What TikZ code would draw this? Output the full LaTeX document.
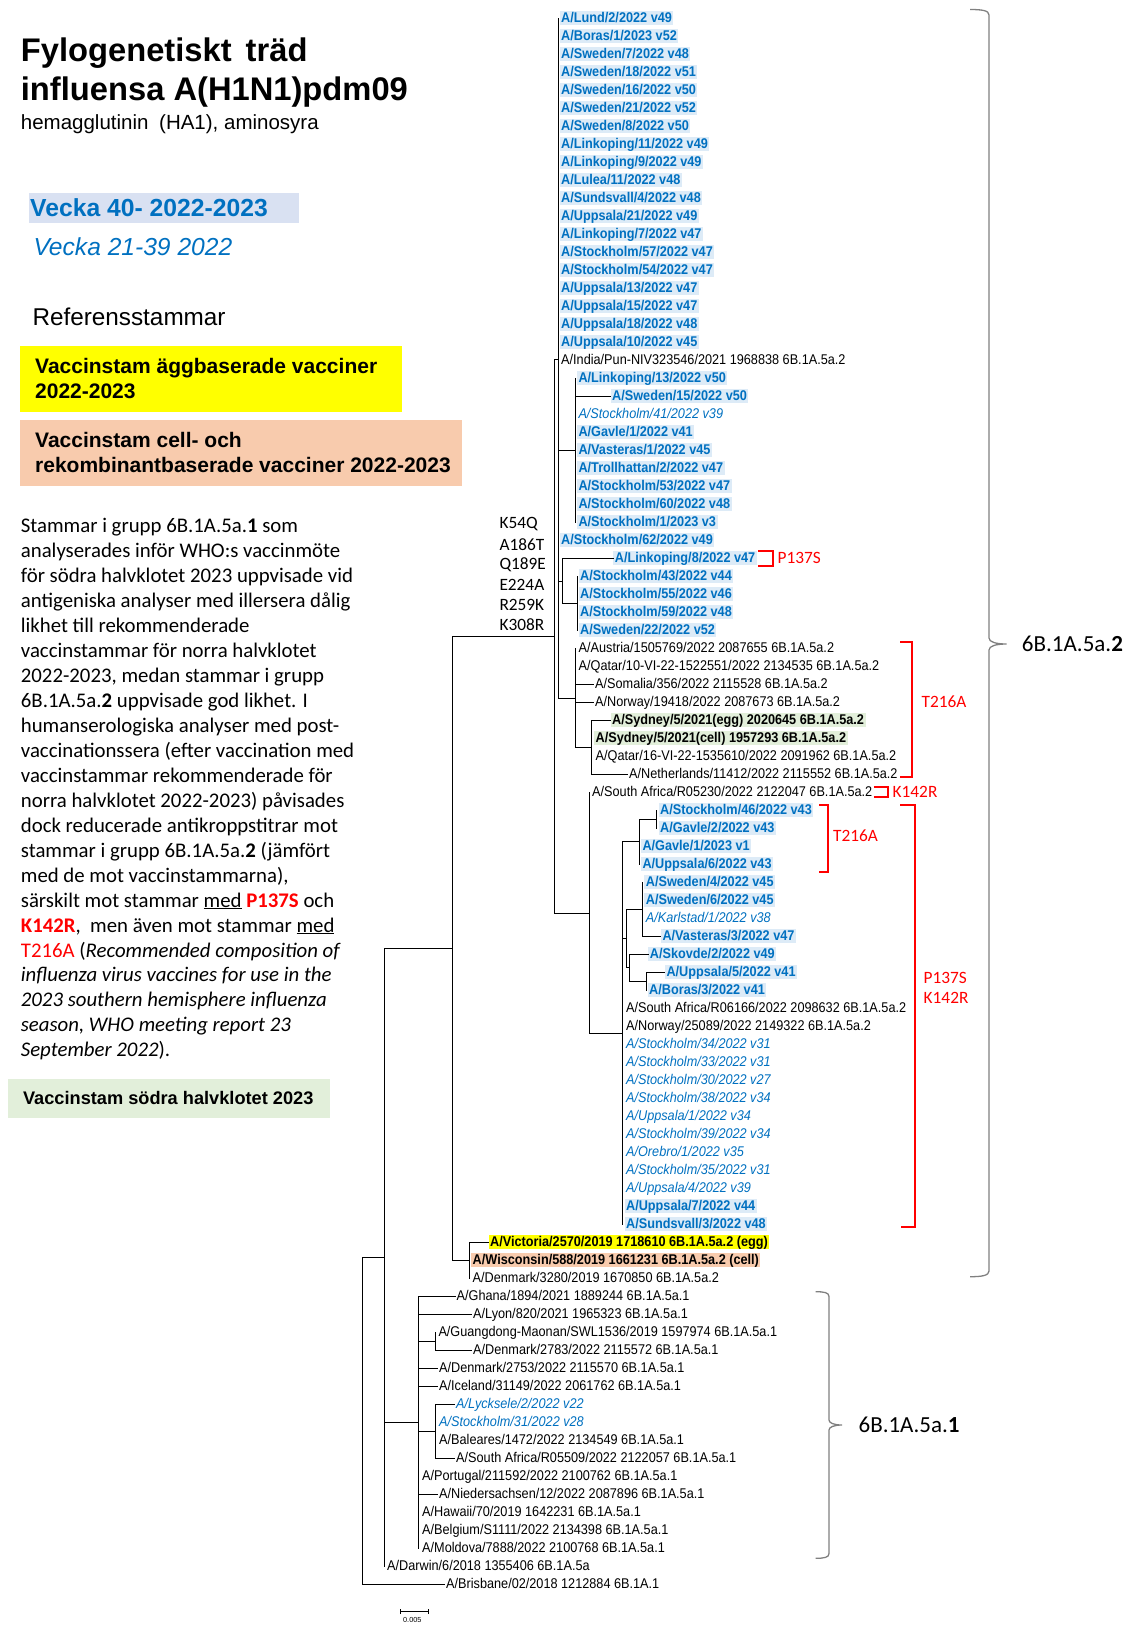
\documentclass[tikz,border=0pt]{standalone}
\usepackage{fontspec}
\setmainfont{Liberation Sans}
\newfontfamily\calfnt{Carlito}
\newfontfamily\leaffam[FakeStretch=0.9]{Liberation Sans}
\definecolor{ablue}{HTML}{0070C0}
\definecolor{hlblue}{HTML}{DDEBF7}
\definecolor{hlgreen}{HTML}{E2EFDA}
\definecolor{hlorange}{HTML}{F8CBAD}
\definecolor{vbg}{HTML}{D9E1F2}
\definecolor{braceg}{HTML}{808080}
\definecolor{myred}{HTML}{FF0000}
\definecolor{myyellow}{HTML}{FFFF00}
\newcommand\leaffnt{\leaffam\fontsize{14.1}{15}\selectfont}
\newcommand\parfnt{\calfnt\fontsize{20.8}{25}\selectfont}
\newcommand\mutfnt{\calfnt\fontsize{17.3}{20}\selectfont}
\begin{document}
\begin{tikzpicture}[x=1pt,y=-1pt,
  leaf/.style={anchor=west, inner xsep=1.5pt, inner ysep=0.5pt, text height=11pt, text depth=2pt, font=\leaffnt},
  lb/.style={leaf, fill=hlblue, text=ablue, font=\leaffnt\bfseries},
  li/.style={leaf, text=ablue, font=\leaffnt\itshape},
  lk/.style={leaf, text=black},
  lg/.style={leaf, fill=hlgreen, font=\leaffnt\bfseries},
  ly/.style={leaf, fill=myyellow, font=\leaffnt\bfseries},
  lo/.style={leaf, fill=hlorange, font=\leaffnt\bfseries},
  br/.style={line width=1pt, line cap=rect, black},
  rbr/.style={line width=2pt, myred},
  rlab/.style={anchor=west, inner sep=0, text=myred, font=\mutfnt},
  ptxt/.style={anchor=base west, inner sep=0, font=\parfnt},
  mut/.style={anchor=west, inner sep=0, font=\mutfnt},
  boxn/.style={anchor=north west, inner sep=0},
  brc/.style={line width=1.3pt, braceg},
  cladelab/.style={anchor=west, inner sep=0, font=\calfnt\fontsize{23}{26}\selectfont}
]
\useasboundingbox (0,0) rectangle (1140,1630);

% ---------- left text ----------
\node[anchor=base west, inner sep=0, font=\fontsize{32.7}{38}\selectfont\bfseries] (t1) at (20.7,61.7) {Fylogenetiskt\hspace{5pt} träd};
\node[anchor=base west, inner sep=0, font=\fontsize{32.7}{38}\selectfont\bfseries] (t2) at (20.7,100) {influensa A(H1N1)pdm09};
\node[anchor=base west, inner sep=0, font=\fontsize{20.5}{24}\selectfont] (t3) at (20.7,129.3) {hemagglutinin\hspace{5pt} (HA1), aminosyra};

\node[boxn, fill=vbg, minimum width=270, minimum height=30.4] (vbox) at (29,192.3) {};
\node[anchor=base west, inner sep=0, text=ablue, font=\fontsize{24.7}{28}\selectfont\bfseries] (v1) at (30,216.7) {Vecka 40- 2022-2023};
\node[anchor=base west, inner sep=0, text=ablue, font=\fontsize{24.6}{28}\selectfont\itshape] (v2) at (33.3,255) {Vecka 21-39 2022};
\node[anchor=base west, inner sep=0, font=\fontsize{24.3}{28}\selectfont] (ref) at (32.3,325) {Referensstammar};

\node[boxn, fill=myyellow, minimum width=381.7, minimum height=65.7] (ybox) at (20,346) {};
\node[anchor=base west, inner sep=0, font=\fontsize{21}{25}\selectfont\bfseries] (y1) at (35,373.3) {Vaccinstam äggbaserade vacciner};
\node[anchor=base west, inner sep=0, font=\fontsize{21}{25}\selectfont\bfseries] (y2) at (35,398.3) {2022-2023};

\node[boxn, fill=hlorange, minimum width=441.7, minimum height=65.7] (obox) at (20,420) {};
\node[anchor=base west, inner sep=0, font=\fontsize{21}{25}\selectfont\bfseries] (o1) at (35,447.7) {Vaccinstam cell- och};
\node[anchor=base west, inner sep=0, font=\fontsize{21}{25}\selectfont\bfseries] (o2) at (35,472.7) {rekombinantbaserade vacciner 2022-2023};

\node[ptxt] (p1) at (20.7,532.5) {Stammar i grupp 6B.1A.5a.\textbf{1} som};
\node[ptxt] (p2) at (20.7,557.47) {analyserades inför WHO:s vaccinmöte};
\node[ptxt] (p3) at (20.7,582.44) {för södra halvklotet 2023 uppvisade vid};
\node[ptxt] (p4) at (20.7,607.41) {antigeniska analyser med illersera dålig};
\node[ptxt] (p5) at (20.7,632.38) {likhet till rekommenderade};
\node[ptxt] (p6) at (20.7,657.35) {vaccinstammar för norra halvklotet};
\node[ptxt] (p7) at (20.7,682.32) {2022-2023, medan stammar i grupp};
\node[ptxt] (p8) at (20.7,707.29) {6B.1A.5a.\textbf{2} uppvisade god likhet. I};
\node[ptxt] (p9) at (20.7,732.26) {humanserologiska analyser med post-};
\node[ptxt] (p10) at (20.7,757.23) {vaccinationssera (efter vaccination med};
\node[ptxt] (p11) at (20.7,782.2) {vaccinstammar rekommenderade för};
\node[ptxt] (p12) at (20.7,807.17) {norra halvklotet 2022-2023) påvisades};
\node[ptxt] (p13) at (20.7,832.14) {dock reducerade antikroppstitrar mot};
\node[ptxt] (p14) at (20.7,857.11) {stammar i grupp 6B.1A.5a.\textbf{2} (jämfört};
\node[ptxt] (p15) at (20.7,882.08) {med de mot vaccinstammarna),};
\node[ptxt] (p16) at (20.7,907.05) {särskilt mot stammar \underline{med} \textcolor{myred}{\textbf{P137S}} och};
\node[ptxt] (p17) at (20.7,932.02) {\textcolor{myred}{\textbf{K142R}},\ \ men även mot stammar \underline{med}};
\node[ptxt] (p18) at (20.7,956.99) {\textcolor{myred}{T216A} (\textit{Recommended composition of}};
\node[ptxt] (p19) at (20.7,981.96) {\textit{influenza virus vaccines for use in the}};
\node[ptxt] (p20) at (20.7,1006.93) {\textit{2023 southern hemisphere influenza}};
\node[ptxt] (p21) at (20.7,1031.9) {\textit{season, WHO meeting report 23}};
\node[ptxt] (p22) at (20.7,1056.87) {\textit{September 2022}).};

\node[boxn, fill=hlgreen, minimum width=322.1, minimum height=39.5] (gbox) at (7.3,1078.7) {};
\node[anchor=base west, inner sep=0, font=\fontsize{18.2}{22}\selectfont\bfseries] (gtxt) at (22.9,1104.9) {Vaccinstam södra halvklotet 2023};

% mutations
\node[mut] (m1) at (499.3,524.5) {K54Q};
\node[mut] (m2) at (499.3,544.6) {A186T};
\node[mut] (m3) at (499.3,564.7) {Q189E};
\node[mut] (m4) at (499.3,584.8) {E224A};
\node[mut] (m5) at (499.3,604.9) {R259K};
\node[mut] (m6) at (499.3,625) {K308R};

% ---------- leaves ----------
\node[lb] (l1) at (559.5,18) {A/Lund/2/2022 v49};
\node[lb] (l2) at (559.5,36) {A/Boras/1/2023 v52};
\node[lb] (l3) at (559.5,54) {A/Sweden/7/2022 v48};
\node[lb] (l4) at (559.5,72) {A/Sweden/18/2022 v51};
\node[lb] (l5) at (559.5,90) {A/Sweden/16/2022 v50};
\node[lb] (l6) at (559.5,108) {A/Sweden/21/2022 v52};
\node[lb] (l7) at (559.5,126) {A/Sweden/8/2022 v50};
\node[lb] (l8) at (559.5,144) {A/Linkoping/11/2022 v49};
\node[lb] (l9) at (559.5,162) {A/Linkoping/9/2022 v49};
\node[lb] (l10) at (559.5,180) {A/Lulea/11/2022 v48};
\node[lb] (l11) at (559.5,198) {A/Sundsvall/4/2022 v48};
\node[lb] (l12) at (559.5,216) {A/Uppsala/21/2022 v49};
\node[lb] (l13) at (559.5,234) {A/Linkoping/7/2022 v47};
\node[lb] (l14) at (559.5,252) {A/Stockholm/57/2022 v47};
\node[lb] (l15) at (559.5,270) {A/Stockholm/54/2022 v47};
\node[lb] (l16) at (559.5,288) {A/Uppsala/13/2022 v47};
\node[lb] (l17) at (559.5,306) {A/Uppsala/15/2022 v47};
\node[lb] (l18) at (559.5,324) {A/Uppsala/18/2022 v48};
\node[lb] (l19) at (559.5,342) {A/Uppsala/10/2022 v45};
\node[lk] (l20) at (559.5,360) {A/India/Pun-NIV323546/2021 1968838 6B.1A.5a.2};
\node[lb] (l21) at (576.8,378) {A/Linkoping/13/2022 v50};
\node[lb] (l22) at (610.5,396) {A/Sweden/15/2022 v50};
\node[li] (l23) at (576.8,414) {A/Stockholm/41/2022 v39};
\node[lb] (l24) at (576.8,432) {A/Gavle/1/2022 v41};
\node[lb] (l25) at (576.8,450) {A/Vasteras/1/2022 v45};
\node[lb] (l26) at (576.8,468) {A/Trollhattan/2/2022 v47};
\node[lb] (l27) at (576.8,486) {A/Stockholm/53/2022 v47};
\node[lb] (l28) at (576.8,504) {A/Stockholm/60/2022 v48};
\node[lb] (l29) at (576.8,522) {A/Stockholm/1/2023 v3};
\node[lb] (l30) at (559.5,540) {A/Stockholm/62/2022 v49};
\node[lb] (l31) at (613.2,558) {A/Linkoping/8/2022 v47};
\node[lb] (l32) at (578.5,576) {A/Stockholm/43/2022 v44};
\node[lb] (l33) at (578.5,594) {A/Stockholm/55/2022 v46};
\node[lb] (l34) at (578.5,612) {A/Stockholm/59/2022 v48};
\node[lb] (l35) at (578.5,630) {A/Sweden/22/2022 v52};
\node[lk] (l36) at (577,648) {A/Austria/1505769/2022 2087655 6B.1A.5a.2};
\node[lk] (l37) at (577,666) {A/Qatar/10-VI-22-1522551/2022 2134535 6B.1A.5a.2};
\node[lk] (l38) at (593.5,684) {A/Somalia/356/2022 2115528 6B.1A.5a.2};
\node[lk] (l39) at (593.5,702) {A/Norway/19418/2022 2087673 6B.1A.5a.2};
\node[lg] (l40) at (610.5,720) {A/Sydney/5/2021(egg) 2020645 6B.1A.5a.2};
\node[lg] (l41) at (594,738) {A/Sydney/5/2021(cell) 1957293 6B.1A.5a.2};
\node[lk] (l42) at (594,756) {A/Qatar/16-VI-22-1535610/2022 2091962 6B.1A.5a.2};
\node[lk] (l43) at (627.5,774) {A/Netherlands/11412/2022 2115552 6B.1A.5a.2};
\node[lk] (l44) at (590.5,792) {A/South Africa/R05230/2022 2122047 6B.1A.5a.2};
\node[lb] (l45) at (658.5,810) {A/Stockholm/46/2022 v43};
\node[lb] (l46) at (658.5,828) {A/Gavle/2/2022 v43};
\node[lb] (l47) at (640.8,846) {A/Gavle/1/2023 v1};
\node[lb] (l48) at (640.8,864) {A/Uppsala/6/2022 v43};
\node[lb] (l49) at (644.2,882) {A/Sweden/4/2022 v45};
\node[lb] (l50) at (644.2,900) {A/Sweden/6/2022 v45};
\node[li] (l51) at (644.2,918) {A/Karlstad/1/2022 v38};
\node[lb] (l52) at (660.8,936) {A/Vasteras/3/2022 v47};
\node[lb] (l53) at (648.2,954) {A/Skovde/2/2022 v49};
\node[lb] (l54) at (664.8,972) {A/Uppsala/5/2022 v41};
\node[lb] (l55) at (647.5,990) {A/Boras/3/2022 v41};
\node[lk] (l56) at (624.4,1008) {A/South Africa/R06166/2022 2098632 6B.1A.5a.2};
\node[lk] (l57) at (624.4,1026) {A/Norway/25089/2022 2149322 6B.1A.5a.2};
\node[li] (l58) at (624.4,1044) {A/Stockholm/34/2022 v31};
\node[li] (l59) at (624.4,1062) {A/Stockholm/33/2022 v31};
\node[li] (l60) at (624.4,1080) {A/Stockholm/30/2022 v27};
\node[li] (l61) at (624.4,1098) {A/Stockholm/38/2022 v34};
\node[li] (l62) at (624.4,1116) {A/Uppsala/1/2022 v34};
\node[li] (l63) at (624.4,1134) {A/Stockholm/39/2022 v34};
\node[li] (l64) at (624.4,1152) {A/Orebro/1/2022 v35};
\node[li] (l65) at (624.4,1170) {A/Stockholm/35/2022 v31};
\node[li] (l66) at (624.4,1188) {A/Uppsala/4/2022 v39};
\node[lb] (l67) at (624.4,1206) {A/Uppsala/7/2022 v44};
\node[lb] (l68) at (624.4,1224) {A/Sundsvall/3/2022 v48};
\node[ly] (l69) at (488.5,1242) {A/Victoria/2570/2019 1718610 6B.1A.5a.2 (egg)};
\node[lo] (l70) at (471,1260) {A/Wisconsin/588/2019 1661231 6B.1A.5a.2 (cell)};
\node[lk] (l71) at (471,1278) {A/Denmark/3280/2019 1670850 6B.1A.5a.2};
\node[lk] (l72) at (455,1296) {A/Ghana/1894/2021 1889244 6B.1A.5a.1};
\node[lk] (l73) at (471.5,1314) {A/Lyon/820/2021 1965323 6B.1A.5a.1};
\node[lk] (l74) at (436.8,1332) {A/Guangdong-Maonan/SWL1536/2019 1597974 6B.1A.5a.1};
\node[lk] (l75) at (471.5,1350) {A/Denmark/2783/2022 2115572 6B.1A.5a.1};
\node[lk] (l76) at (437.5,1368) {A/Denmark/2753/2022 2115570 6B.1A.5a.1};
\node[lk] (l77) at (437.5,1386) {A/Iceland/31149/2022 2061762 6B.1A.5a.1};
\node[li] (l78) at (454.5,1404) {A/Lycksele/2/2022 v22};
\node[li] (l79) at (437.5,1422) {A/Stockholm/31/2022 v28};
\node[lk] (l80) at (437.5,1440) {A/Baleares/1472/2022 2134549 6B.1A.5a.1};
\node[lk] (l81) at (454.5,1458) {A/South Africa/R05509/2022 2122057 6B.1A.5a.1};
\node[lk] (l82) at (420.5,1476) {A/Portugal/211592/2022 2100762 6B.1A.5a.1};
\node[lk] (l83) at (437.5,1494) {A/Niedersachsen/12/2022 2087896 6B.1A.5a.1};
\node[lk] (l84) at (420.5,1512) {A/Hawaii/70/2019 1642231 6B.1A.5a.1};
\node[lk] (l85) at (420.5,1530) {A/Belgium/S1111/2022 2134398 6B.1A.5a.1};
\node[lk] (l86) at (420.5,1548) {A/Moldova/7888/2022 2100768 6B.1A.5a.1};
\node[lk] (l87) at (385.5,1566) {A/Darwin/6/2018 1355406 6B.1A.5a};
\node[lk] (l88) at (444.5,1584) {A/Brisbane/02/2018 1212884 6B.1A.1};

% ---------- internal nodes ----------
\coordinate (nQ) at (362.3,1420);
\coordinate (nP) at (384.3,1257);
\coordinate (nM) at (452.7,948);
\coordinate (nA) at (554.3,636);
\coordinate (nB) at (558.3,359);
\coordinate (nC1) at (575.7,450);
\coordinate (nC2) at (562.3,581);
\coordinate (nC3) at (577,603);
\coordinate (nC) at (575.6,698);
\coordinate (nD) at (591.1,747);
\coordinate (nE) at (589.3,913);
\coordinate (nF) at (622.7,1033);
\coordinate (nG) at (639.3,841.5);
\coordinate (nH) at (656.7,819);
\coordinate (nI) at (626,938.5);
\coordinate (nJ) at (642.7,909);
\coordinate (nK) at (629.3,967.5);
\coordinate (nL) at (646,981);
\coordinate (nN) at (469.5,1260);
\coordinate (nR) at (418.4,1422);
\coordinate (nS) at (435.1,1341);
\coordinate (nT) at (435,1431);

% ---------- branches ----------
\draw[br] (nQ |- nP) -- (nQ |- l88);
\draw[br] (nQ |- nP) -- (nP);
\draw[br] (nQ |- l88) -- (l88.west);

\draw[br] (nP |- nM) -- (nP |- l87);
\draw[br] (nP |- nM) -- (nM);
\draw[br] (nP |- nR) -- (nR);

\draw[br] (nM |- nA) -- (nM |- nN);
\draw[br] (nM |- nA) -- (nA);
\draw[br] (nM |- nN) -- (nN);

\draw[br] (nN |- l69) -- (nN |- l71);
\draw[br] (nN |- l69) -- (l69.west);

\draw[br] (nA |- nB) -- (nA |- nE);
\draw[br] (nA |- nB) -- (nB);
\draw[br] (nA |- nE) -- (nE);

\draw[br] (nB |- l1) -- (nB |- nC);
\draw[br] (nB |- nC1) -- (nC1);
\draw[br] (nB |- nC2) -- (nC2);
\draw[br] (nB |- nC) -- (nC);

\draw[br] (nC1 |- l21) -- (nC1 |- l29);
\draw[br] (nC1 |- l22) -- (l22.west);

\draw[br] (nC2 |- l31) -- (nC2 |- nC3);
\draw[br] (nC2 |- l31) -- (l31.west);
\draw[br] (nC2 |- nC3) -- (nC3);
\draw[br] (nC3 |- l32) -- (nC3 |- l35);

\draw[br] (nC |- l36) -- (nC |- nD);
\draw[br] (nC |- l38) -- (l38.west);
\draw[br] (nC |- l39) -- (l39.west);
\draw[br] (nC |- nD) -- (nD);

\draw[br] (nD |- l40) -- (nD |- l43);
\draw[br] (nD |- l40) -- (l40.west);
\draw[br] (nD |- l43) -- (l43.west);

\draw[br] (nE |- l44) -- (nE |- nF);
\draw[br] (nE |- nF) -- (nF);

\draw[br] (nF |- nG) -- (nF |- l68);
\draw[br] (nF |- nG) -- (nG);
\draw[br] (nF |- nI) -- (nI);

\draw[br] (nG |- nH) -- (nG |- l48);
\draw[br] (nG |- nH) -- (nH);
\draw[br] (nH |- l45) -- (nH |- l46);

\draw[br] (nI |- nJ) -- (nI |- nK);
\draw[br] (nI |- nJ) -- (nJ);
\draw[br] (nI |- nK) -- (nK);

\draw[br] (nJ |- l49) -- (nJ |- l52);
\draw[br] (nJ |- l52) -- (l52.west);

\draw[br] (nK |- l53) -- (nK |- nL);
\draw[br] (nK |- l53) -- (l53.west);
\draw[br] (nK |- nL) -- (nL);
\draw[br] (nL |- l54) -- (nL |- l55);
\draw[br] (nL |- l54) -- (l54.west);

\draw[br] (nR |- l72) -- (nR |- l86);
\draw[br] (nR |- l72) -- (l72.west);
\draw[br] (nR |- l73) -- (l73.west);
\draw[br] (nR |- nS) -- (nS);
\draw[br] (nR |- l76) -- (l76.west);
\draw[br] (nR |- l77) -- (l77.west);
\draw[br] (nR |- nT) -- (nT);
\draw[br] (nR |- l83) -- (l83.west);

\draw[br] (nS |- l74) -- (nS |- l75);
\draw[br] (nS |- l75) -- (l75.west);

\draw[br] (nT |- l78) -- (nT |- l81);
\draw[br] (nT |- l78) -- (l78.west);
\draw[br] (nT |- l81) -- (l81.west);

% ---------- red brackets ----------
\draw[rbr] (758.3,550.5) -- (773.3,550.5) -- (773.3,565.5) -- (758.3,565.5);
\node[rlab] (rl1) at (777.5,558) {P137S};
\draw[rbr] (900,641.7) -- (912.4,641.7) -- (912.4,776.7) -- (899.7,776.7);
\node[rlab] (rl2) at (921.5,701.7) {T216A};
\draw[rbr] (873.9,786.7) -- (888.3,786.7) -- (888.3,797) -- (873.9,797);
\node[rlab] (rl3) at (892.5,792) {K142R};
\draw[rbr] (819.4,805) -- (828,805) -- (828,871.7) -- (819.4,871.7);
\node[rlab] (rl4) at (833,836) {T216A};
\draw[rbr] (900,805) -- (914.8,805) -- (914.8,1226.7) -- (900.7,1226.7);
\node[rlab] (rl5) at (923.5,978) {P137S};
\node[rlab] (rl6) at (923.5,997.6) {K142R};

% ---------- braces ----------
\draw[brc] (970,9.5) .. controls (982,9.5) and (989,10.5) .. (989,15) -- (989,638)
  .. controls (989,642) and (996,644) .. (1006.5,644)
  .. controls (996,644) and (989,646) .. (989,650) -- (989,1271)
  .. controls (989,1275.5) and (982,1276.7) .. (970,1276.7);
\node[cladelab] (c2) at (1021.7,644) {6B.1A.5a.\textbf{2}};

\draw[brc] (815.5,1291.7) .. controls (824,1291.7) and (829,1292.5) .. (829,1296.5) -- (829,1420)
  .. controls (829,1423) and (834,1425) .. (842,1425)
  .. controls (834,1425) and (829,1427) .. (829,1430) -- (829,1553.5)
  .. controls (829,1557.5) and (824,1558.3) .. (815.5,1558.3);
\node[cladelab] (c1) at (858.4,1425) {6B.1A.5a.\textbf{1}};

% ---------- scale bar ----------
\coordinate (sb1) at (400.4,1611);
\coordinate (sb2) at (428.2,1611);
\draw[line width=0.8pt] (sb1) -- (sb2);
\draw[line width=0.8pt] ([yshift=-3]sb1) -- ([yshift=2.5]sb1);
\draw[line width=0.8pt] ([yshift=-3]sb2) -- ([yshift=2.5]sb2);
\node[inner sep=0, font=\fontsize{7.3}{8}\selectfont] (sbl) at (412.3,1619.5) {0.005};
\end{tikzpicture}
\end{document}
